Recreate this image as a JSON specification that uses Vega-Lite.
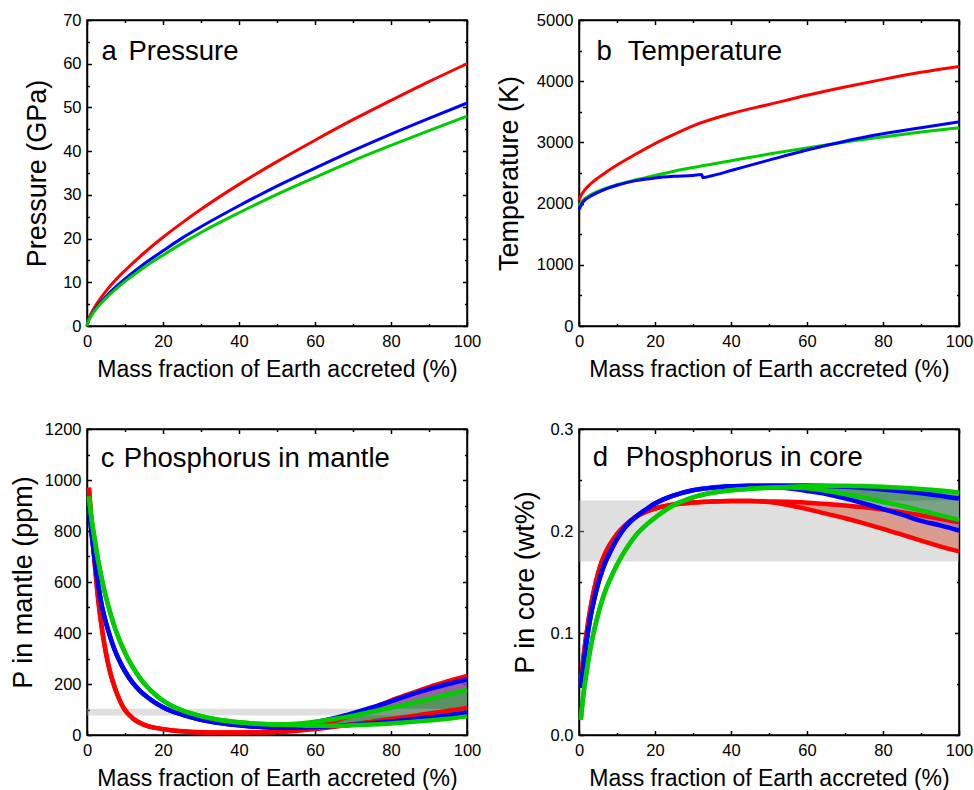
{
  "$schema": "https://vega.github.io/schema/vega-lite/v6.json",
  "padding": {"left": 8, "top": 11, "right": 0, "bottom": 0},
  "background": "white",
  "config": {
    "font": "Liberation Sans",
    "view": {"stroke": "black", "strokeWidth": 1.5},
    "axis": {
      "labelFont": "Liberation Sans", "labelFontSize": 16.5, "labelColor": "black",
      "titleFont": "Liberation Sans", "titleFontWeight": "normal", "titleColor": "black",
      "domainColor": "black", "domainWidth": 1.5, "tickColor": "black", "tickWidth": 1.5,
      "grid": false, "labelFlush": false, "labelOverlap": false
    },
    "axisX": {"titleFontSize": 23},
    "axisY": {"titleFontSize": 27},
    "text": {"font": "Liberation Sans", "fontSize": 27.5, "color": "black"}
  },
  "datasets": {
    "pa": [
      {"x":0,"s":"red","v":0},{"x":0.5,"s":"red","v":1.7},{"x":1,"s":"red","v":2.69},{"x":2,"s":"red","v":4.3},{"x":3,"s":"red","v":5.65},{"x":5,"s":"red","v":7.97},{"x":7.5,"s":"red","v":10.5},{"x":10,"s":"red","v":12.7},{"x":15,"s":"red","v":16.7},{"x":20,"s":"red","v":20.3},{"x":25,"s":"red","v":23.6},{"x":30,"s":"red","v":26.7},{"x":40,"s":"red","v":32.4},{"x":50,"s":"red","v":37.6},{"x":60,"s":"red","v":42.5},{"x":70,"s":"red","v":47.2},{"x":80,"s":"red","v":51.6},{"x":90,"s":"red","v":55.9},{"x":100,"s":"red","v":60},
      {"x":0,"s":"blue","v":0},{"x":0.5,"s":"blue","v":1.45},{"x":1,"s":"blue","v":2.29},{"x":2,"s":"blue","v":3.66},{"x":3,"s":"blue","v":4.8},{"x":5,"s":"blue","v":6.77},{"x":7.5,"s":"blue","v":8.9},{"x":10,"s":"blue","v":10.8},{"x":15,"s":"blue","v":14.2},{"x":20,"s":"blue","v":17.2},{"x":25,"s":"blue","v":20.1},{"x":30,"s":"blue","v":22.7},{"x":40,"s":"blue","v":27.5},{"x":50,"s":"blue","v":32.0},{"x":60,"s":"blue","v":36.1},{"x":70,"s":"blue","v":40.1},{"x":80,"s":"blue","v":43.9},{"x":90,"s":"blue","v":47.5},{"x":100,"s":"blue","v":51},
      {"x":0,"s":"green","v":0},{"x":0.5,"s":"green","v":1.36},{"x":1,"s":"green","v":2.15},{"x":2,"s":"green","v":3.44},{"x":3,"s":"green","v":4.52},{"x":5,"s":"green","v":6.38},{"x":7.5,"s":"green","v":8.4},{"x":10,"s":"green","v":10.2},{"x":15,"s":"green","v":13.4},{"x":20,"s":"green","v":16.2},{"x":25,"s":"green","v":18.9},{"x":30,"s":"green","v":21.4},{"x":40,"s":"green","v":25.9},{"x":50,"s":"green","v":30.1},{"x":60,"s":"green","v":34.0},{"x":70,"s":"green","v":37.8},{"x":80,"s":"green","v":41.3},{"x":90,"s":"green","v":44.7},{"x":100,"s":"green","v":48}
    ],
    "pb": [
      {"x":0,"s":"red","v":2050},{"x":0.5,"s":"red","v":2130},{"x":1,"s":"red","v":2180},{"x":2,"s":"red","v":2260},{"x":3,"s":"red","v":2320},{"x":5,"s":"red","v":2420},{"x":7.5,"s":"red","v":2530},{"x":10,"s":"red","v":2630},{"x":15,"s":"red","v":2810},{"x":20,"s":"red","v":2980},{"x":25,"s":"red","v":3130},{"x":30,"s":"red","v":3270},{"x":40,"s":"red","v":3470},{"x":50,"s":"red","v":3620},{"x":60,"s":"red","v":3770},{"x":70,"s":"red","v":3905},{"x":80,"s":"red","v":4030},{"x":90,"s":"red","v":4145},{"x":100,"s":"red","v":4240},
      {"x":0,"s":"green","v":1960},{"x":0.5,"s":"green","v":2010},{"x":1,"s":"green","v":2050},{"x":2,"s":"green","v":2100},{"x":3,"s":"green","v":2140},{"x":5,"s":"green","v":2200},{"x":7.5,"s":"green","v":2260},{"x":10,"s":"green","v":2310},{"x":15,"s":"green","v":2390},{"x":20,"s":"green","v":2460},{"x":25,"s":"green","v":2530},{"x":30,"s":"green","v":2590},{"x":40,"s":"green","v":2700},{"x":50,"s":"green","v":2810},{"x":60,"s":"green","v":2910},{"x":70,"s":"green","v":3005},{"x":80,"s":"green","v":3090},{"x":90,"s":"green","v":3170},{"x":100,"s":"green","v":3240},
      {"x":0,"s":"blue","v":1900},{"x":0.5,"s":"blue","v":1970},{"x":1,"s":"blue","v":2020},{"x":2,"s":"blue","v":2080},{"x":3,"s":"blue","v":2120},{"x":5,"s":"blue","v":2185},{"x":7.5,"s":"blue","v":2250},{"x":10,"s":"blue","v":2300},{"x":15,"s":"blue","v":2375},{"x":20,"s":"blue","v":2420},{"x":25,"s":"blue","v":2445},{"x":30,"s":"blue","v":2460},{"x":32.3,"s":"blue","v":2475},{"x":32.6,"s":"blue","v":2425},{"x":35,"s":"blue","v":2455},{"x":40,"s":"blue","v":2540},{"x":50,"s":"blue","v":2710},{"x":60,"s":"blue","v":2875},{"x":70,"s":"blue","v":3020},{"x":80,"s":"blue","v":3140},{"x":90,"s":"blue","v":3240},{"x":100,"s":"blue","v":3335}
    ],
    "pc": [
      {"x":0.5,"s":"red","lo":970,"hi":970},{"x":1,"s":"red","lo":870,"hi":870},{"x":2,"s":"red","lo":680,"hi":680},{"x":3,"s":"red","lo":525,"hi":525},{"x":4,"s":"red","lo":410,"hi":410},{"x":5,"s":"red","lo":320,"hi":320},{"x":6,"s":"red","lo":252,"hi":252},{"x":7,"s":"red","lo":200,"hi":200},{"x":8,"s":"red","lo":158,"hi":158},{"x":9,"s":"red","lo":124,"hi":124},{"x":10,"s":"red","lo":98,"hi":98},{"x":12,"s":"red","lo":66,"hi":66},{"x":14,"s":"red","lo":47,"hi":47},{"x":16,"s":"red","lo":35,"hi":35},{"x":18,"s":"red","lo":28,"hi":28},{"x":20,"s":"red","lo":23,"hi":23},{"x":22,"s":"red","lo":19,"hi":19},{"x":25,"s":"red","lo":15,"hi":15},{"x":30,"s":"red","lo":11,"hi":11},{"x":35,"s":"red","lo":10,"hi":10},{"x":40,"s":"red","lo":10,"hi":10},{"x":45,"s":"red","lo":11,"hi":11},{"x":50,"s":"red","lo":12,"hi":14},{"x":55,"s":"red","lo":16,"hi":22},{"x":60,"s":"red","lo":23,"hi":36},{"x":65,"s":"red","lo":32,"hi":55},{"x":70,"s":"red","lo":42,"hi":78},{"x":75,"s":"red","lo":52,"hi":104},{"x":80,"s":"red","lo":63,"hi":135},{"x":85,"s":"red","lo":73,"hi":162},{"x":90,"s":"red","lo":84,"hi":188},{"x":95,"s":"red","lo":95,"hi":211},{"x":100,"s":"red","lo":106,"hi":232},
      {"x":0.5,"s":"blue","lo":900,"hi":900},{"x":1,"s":"blue","lo":820,"hi":820},{"x":2,"s":"blue","lo":690,"hi":690},{"x":3,"s":"blue","lo":585,"hi":585},{"x":4,"s":"blue","lo":500,"hi":500},{"x":5,"s":"blue","lo":440,"hi":440},{"x":6,"s":"blue","lo":390,"hi":390},{"x":7,"s":"blue","lo":345,"hi":345},{"x":8,"s":"blue","lo":308,"hi":308},{"x":9,"s":"blue","lo":277,"hi":277},{"x":10,"s":"blue","lo":250,"hi":250},{"x":12,"s":"blue","lo":205,"hi":205},{"x":14,"s":"blue","lo":172,"hi":172},{"x":16,"s":"blue","lo":147,"hi":147},{"x":18,"s":"blue","lo":126,"hi":126},{"x":20,"s":"blue","lo":109,"hi":109},{"x":22,"s":"blue","lo":95,"hi":95},{"x":25,"s":"blue","lo":80,"hi":80},{"x":30,"s":"blue","lo":60,"hi":60},{"x":35,"s":"blue","lo":47,"hi":47},{"x":40,"s":"blue","lo":38,"hi":38},{"x":45,"s":"blue","lo":32,"hi":32},{"x":50,"s":"blue","lo":28,"hi":32},{"x":55,"s":"blue","lo":28,"hi":38},{"x":60,"s":"blue","lo":31,"hi":50},{"x":65,"s":"blue","lo":35,"hi":66},{"x":70,"s":"blue","lo":40,"hi":86},{"x":75,"s":"blue","lo":46,"hi":108},{"x":80,"s":"blue","lo":53,"hi":132},{"x":85,"s":"blue","lo":61,"hi":157},{"x":90,"s":"blue","lo":69,"hi":180},{"x":95,"s":"blue","lo":78,"hi":200},{"x":100,"s":"blue","lo":88,"hi":218},
      {"x":0.5,"s":"green","lo":935,"hi":935},{"x":1,"s":"green","lo":870,"hi":870},{"x":2,"s":"green","lo":770,"hi":770},{"x":3,"s":"green","lo":680,"hi":680},{"x":4,"s":"green","lo":605,"hi":605},{"x":5,"s":"green","lo":540,"hi":540},{"x":6,"s":"green","lo":485,"hi":485},{"x":7,"s":"green","lo":436,"hi":436},{"x":8,"s":"green","lo":393,"hi":393},{"x":9,"s":"green","lo":356,"hi":356},{"x":10,"s":"green","lo":322,"hi":322},{"x":12,"s":"green","lo":267,"hi":267},{"x":14,"s":"green","lo":222,"hi":222},{"x":16,"s":"green","lo":186,"hi":186},{"x":18,"s":"green","lo":158,"hi":158},{"x":20,"s":"green","lo":135,"hi":135},{"x":22,"s":"green","lo":117,"hi":117},{"x":25,"s":"green","lo":97,"hi":97},{"x":30,"s":"green","lo":74,"hi":74},{"x":35,"s":"green","lo":59,"hi":59},{"x":40,"s":"green","lo":50,"hi":50},{"x":45,"s":"green","lo":44,"hi":44},{"x":50,"s":"green","lo":41,"hi":41},{"x":55,"s":"green","lo":39,"hi":44},{"x":60,"s":"green","lo":36,"hi":52},{"x":65,"s":"green","lo":36,"hi":63},{"x":70,"s":"green","lo":38,"hi":76},{"x":75,"s":"green","lo":41,"hi":91},{"x":80,"s":"green","lo":45,"hi":107},{"x":85,"s":"green","lo":51,"hi":124},{"x":90,"s":"green","lo":57,"hi":141},{"x":95,"s":"green","lo":64,"hi":160},{"x":100,"s":"green","lo":73,"hi":178}
    ],
    "pd": [
      {"x":0.5,"s":"red","lo":0.05,"hi":0.05},{"x":1,"s":"red","lo":0.07,"hi":0.07},{"x":2,"s":"red","lo":0.1,"hi":0.1},{"x":3,"s":"red","lo":0.124,"hi":0.124},{"x":4,"s":"red","lo":0.143,"hi":0.143},{"x":5,"s":"red","lo":0.158,"hi":0.158},{"x":6,"s":"red","lo":0.17,"hi":0.17},{"x":7,"s":"red","lo":0.179,"hi":0.179},{"x":8,"s":"red","lo":0.186,"hi":0.186},{"x":10,"s":"red","lo":0.197,"hi":0.197},{"x":12,"s":"red","lo":0.205,"hi":0.205},{"x":15,"s":"red","lo":0.214,"hi":0.214},{"x":18,"s":"red","lo":0.2195,"hi":0.2195},{"x":20,"s":"red","lo":0.222,"hi":0.222},{"x":25,"s":"red","lo":0.226,"hi":0.226},{"x":30,"s":"red","lo":0.228,"hi":0.228},{"x":35,"s":"red","lo":0.229,"hi":0.229},{"x":40,"s":"red","lo":0.2293,"hi":0.2293},{"x":45,"s":"red","lo":0.2293,"hi":0.2293},{"x":50,"s":"red","lo":0.2283,"hi":0.229},{"x":55,"s":"red","lo":0.2255,"hi":0.2287},{"x":60,"s":"red","lo":0.2215,"hi":0.2278},{"x":65,"s":"red","lo":0.217,"hi":0.2265},{"x":70,"s":"red","lo":0.2125,"hi":0.225},{"x":75,"s":"red","lo":0.2075,"hi":0.2232},{"x":80,"s":"red","lo":0.202,"hi":0.221},{"x":85,"s":"red","lo":0.1965,"hi":0.2185},{"x":90,"s":"red","lo":0.1905,"hi":0.2155},{"x":95,"s":"red","lo":0.185,"hi":0.212},{"x":100,"s":"red","lo":0.18,"hi":0.2085},
      {"x":0.5,"s":"blue","lo":0.046,"hi":0.046},{"x":1,"s":"blue","lo":0.062,"hi":0.062},{"x":2,"s":"blue","lo":0.092,"hi":0.092},{"x":3,"s":"blue","lo":0.115,"hi":0.115},{"x":4,"s":"blue","lo":0.133,"hi":0.133},{"x":5,"s":"blue","lo":0.148,"hi":0.148},{"x":6,"s":"blue","lo":0.16,"hi":0.16},{"x":7,"s":"blue","lo":0.17,"hi":0.17},{"x":8,"s":"blue","lo":0.178,"hi":0.178},{"x":10,"s":"blue","lo":0.192,"hi":0.192},{"x":12,"s":"blue","lo":0.203,"hi":0.203},{"x":15,"s":"blue","lo":0.214,"hi":0.214},{"x":18,"s":"blue","lo":0.222,"hi":0.222},{"x":20,"s":"blue","lo":0.227,"hi":0.227},{"x":25,"s":"blue","lo":0.235,"hi":0.235},{"x":30,"s":"blue","lo":0.24,"hi":0.24},{"x":35,"s":"blue","lo":0.2425,"hi":0.2425},{"x":40,"s":"blue","lo":0.2438,"hi":0.2438},{"x":45,"s":"blue","lo":0.2444,"hi":0.2444},{"x":50,"s":"blue","lo":0.2435,"hi":0.2447},{"x":55,"s":"blue","lo":0.2418,"hi":0.2447},{"x":60,"s":"blue","lo":0.2393,"hi":0.2445},{"x":65,"s":"blue","lo":0.2363,"hi":0.2441},{"x":70,"s":"blue","lo":0.232,"hi":0.2433},{"x":75,"s":"blue","lo":0.227,"hi":0.2422},{"x":80,"s":"blue","lo":0.2215,"hi":0.2407},{"x":85,"s":"blue","lo":0.216,"hi":0.239},{"x":90,"s":"blue","lo":0.21,"hi":0.237},{"x":95,"s":"blue","lo":0.2055,"hi":0.2346},{"x":100,"s":"blue","lo":0.2005,"hi":0.2318},
      {"x":0.5,"s":"green","lo":0.015,"hi":0.015},{"x":1,"s":"green","lo":0.035,"hi":0.035},{"x":2,"s":"green","lo":0.062,"hi":0.062},{"x":3,"s":"green","lo":0.085,"hi":0.085},{"x":4,"s":"green","lo":0.103,"hi":0.103},{"x":5,"s":"green","lo":0.118,"hi":0.118},{"x":6,"s":"green","lo":0.131,"hi":0.131},{"x":7,"s":"green","lo":0.142,"hi":0.142},{"x":8,"s":"green","lo":0.151,"hi":0.151},{"x":10,"s":"green","lo":0.167,"hi":0.167},{"x":12,"s":"green","lo":0.18,"hi":0.18},{"x":15,"s":"green","lo":0.196,"hi":0.196},{"x":18,"s":"green","lo":0.207,"hi":0.207},{"x":20,"s":"green","lo":0.213,"hi":0.213},{"x":25,"s":"green","lo":0.2255,"hi":0.2255},{"x":30,"s":"green","lo":0.233,"hi":0.233},{"x":35,"s":"green","lo":0.2375,"hi":0.2375},{"x":40,"s":"green","lo":0.24,"hi":0.24},{"x":45,"s":"green","lo":0.2415,"hi":0.2415},{"x":50,"s":"green","lo":0.2425,"hi":0.2425},{"x":55,"s":"green","lo":0.2426,"hi":0.2432},{"x":60,"s":"green","lo":0.2418,"hi":0.244},{"x":65,"s":"green","lo":0.2395,"hi":0.2443},{"x":70,"s":"green","lo":0.2362,"hi":0.2443},{"x":75,"s":"green","lo":0.2325,"hi":0.244},{"x":80,"s":"green","lo":0.2285,"hi":0.2435},{"x":85,"s":"green","lo":0.2245,"hi":0.2425},{"x":90,"s":"green","lo":0.22,"hi":0.2412},{"x":95,"s":"green","lo":0.2155,"hi":0.2397},{"x":100,"s":"green","lo":0.2108,"hi":0.2378}
    ],
    "bandc": [{"x0":0,"x1":100,"lo":76,"hi":103}],
    "bandd": [{"x0":0,"x1":100,"lo":0.17,"hi":0.23}],
    "ta": [{"x":3.8,"y":60.9,"t":"a"},{"x":10.9,"y":60.9,"t":"Pressure"}],
    "tb": [{"x":4.6,"y":4352,"t":"b"},{"x":12.8,"y":4352,"t":"Temperature"}],
    "tc": [{"x":3.6,"y":1052,"t":"c"},{"x":9.7,"y":1052,"t":"Phosphorus in mantle"}],
    "td": [{"x":3.6,"y":0.2637,"t":"d"},{"x":12.3,"y":0.2637,"t":"Phosphorus in core"}]
  },
  "concat": [
    {
      "width": 380, "height": 306,
      "resolve": {"axis": {"x": "independent", "y": "independent"}},
      "layer": [
        {
          "data": {"name": "pa"},
          "mark": {"type": "line", "interpolate": "monotone", "strokeWidth": 3},
          "encoding": {
            "x": {"field": "x", "type": "quantitative", "scale": {"domain": [0, 100], "nice": false},
              "axis": {"orient": "bottom", "title": "Mass fraction of Earth accreted (%)", "values": [0,10,20,30,40,50,60,70,80,90,100],
                "labelExpr": "round(datum.value/10)%2==1 ? '' : datum.label",
                "tickSize": {"condition": {"test": "round(datum.value/10)%2==1", "value": -2.5}, "value": -4.5},
                "labelPadding": 11.5, "titlePadding": 7}},
            "y": {"field": "v", "type": "quantitative", "scale": {"domain": [0, 70], "nice": false},
              "axis": {"orient": "left", "title": "Pressure (GPa)", "values": [0,5,10,15,20,25,30,35,40,45,50,55,60,65,70],
                "labelExpr": "round(datum.value/5)%2==1 ? '' : datum.label",
                "tickSize": {"condition": {"test": "round(datum.value/5)%2==1", "value": -2.5}, "value": -4.5},
                "labelPadding": 10.5, "titlePadding": 11}},
            "color": {"field": "s", "type": "nominal", "scale": {"domain": ["red", "blue", "green"], "range": ["#ff0000", "#0000ff", "#00cc00"]}, "legend": null}
          }
        },
        {
          "data": {"name": "ta"},
          "mark": {"type": "text", "align": "left", "baseline": "alphabetic"},
          "encoding": {
            "x": {"field": "x", "type": "quantitative",
              "axis": {"orient": "top", "title": null, "labels": false, "values": [0,10,20,30,40,50,60,70,80,90,100],
                "tickSize": {"condition": {"test": "round(datum.value/10)%2==1", "value": -2.5}, "value": -4.5}}},
            "y": {"field": "y", "type": "quantitative",
              "axis": {"orient": "right", "title": null, "labels": false, "values": [0,5,10,15,20,25,30,35,40,45,50,55,60,65,70],
                "tickSize": {"condition": {"test": "round(datum.value/5)%2==1", "value": -2.5}, "value": -4.5}}},
            "text": {"field": "t"}
          }
        }
      ]
    },
    {
      "width": 380, "height": 306,
      "resolve": {"axis": {"x": "independent", "y": "independent"}},
      "layer": [
        {
          "data": {"name": "pb"},
          "transform": [{"filter": "datum.s == 'red'"}],
          "mark": {"type": "line", "interpolate": "monotone", "strokeWidth": 3, "color": "#ff0000"},
          "encoding": {
            "x": {"field": "x", "type": "quantitative", "scale": {"domain": [0, 100], "nice": false},
              "axis": {"orient": "bottom", "title": "Mass fraction of Earth accreted (%)", "values": [0,10,20,30,40,50,60,70,80,90,100],
                "labelExpr": "round(datum.value/10)%2==1 ? '' : datum.label",
                "tickSize": {"condition": {"test": "round(datum.value/10)%2==1", "value": -2.5}, "value": -4.5},
                "labelPadding": 11.5, "titlePadding": 7}},
            "y": {"field": "v", "type": "quantitative", "scale": {"domain": [0, 5000], "nice": false},
              "axis": {"orient": "left", "title": "Temperature (K)", "values": [0,500,1000,1500,2000,2500,3000,3500,4000,4500,5000],
                "labelExpr": "round(datum.value/500)%2==1 ? '' : datum.label", "format": "d",
                "tickSize": {"condition": {"test": "round(datum.value/500)%2==1", "value": -2.5}, "value": -4.5},
                "labelPadding": 10.5, "titlePadding": 13}}
          }
        },
        {
          "data": {"name": "pb"},
          "transform": [{"filter": "datum.s == 'green'"}],
          "mark": {"type": "line", "interpolate": "monotone", "strokeWidth": 3, "color": "#00cc00"},
          "encoding": {
            "x": {"field": "x", "type": "quantitative", "axis": null},
            "y": {"field": "v", "type": "quantitative", "axis": null}
          }
        },
        {
          "data": {"name": "pb"},
          "transform": [{"filter": "datum.s == 'blue'"}],
          "mark": {"type": "line", "interpolate": "monotone", "strokeWidth": 3, "color": "#0000ff"},
          "encoding": {
            "x": {"field": "x", "type": "quantitative", "axis": null},
            "y": {"field": "v", "type": "quantitative", "axis": null}
          }
        },
        {
          "data": {"name": "tb"},
          "mark": {"type": "text", "align": "left", "baseline": "alphabetic"},
          "encoding": {
            "x": {"field": "x", "type": "quantitative",
              "axis": {"orient": "top", "title": null, "labels": false, "values": [0,10,20,30,40,50,60,70,80,90,100],
                "tickSize": {"condition": {"test": "round(datum.value/10)%2==1", "value": -2.5}, "value": -4.5}}},
            "y": {"field": "y", "type": "quantitative",
              "axis": {"orient": "right", "title": null, "labels": false, "values": [0,500,1000,1500,2000,2500,3000,3500,4000,4500,5000],
                "tickSize": {"condition": {"test": "round(datum.value/500)%2==1", "value": -2.5}, "value": -4.5}}},
            "text": {"field": "t"}
          }
        }
      ]
    },
    {
      "width": 380, "height": 306,
      "resolve": {"axis": {"x": "independent", "y": "independent"}},
      "layer": [
        {
          "data": {"name": "pc"},
          "transform": [{"filter": "datum.s == 'red'"}],
          "mark": {"type": "area", "interpolate": "monotone", "color": "#f06040", "opacity": 0.7},
          "encoding": {
            "x": {"field": "x", "type": "quantitative", "scale": {"domain": [0, 100], "nice": false},
              "axis": {"orient": "bottom", "title": "Mass fraction of Earth accreted (%)", "values": [0,10,20,30,40,50,60,70,80,90,100],
                "labelExpr": "round(datum.value/10)%2==1 ? '' : datum.label",
                "tickSize": {"condition": {"test": "round(datum.value/10)%2==1", "value": -2.5}, "value": -4.5},
                "labelPadding": 11.5, "titlePadding": 7}},
            "y": {"field": "lo", "type": "quantitative", "scale": {"domain": [0, 1200], "nice": false},
              "axis": {"orient": "left", "title": "P in mantle (ppm)", "values": [0,100,200,300,400,500,600,700,800,900,1000,1100,1200],
                "labelExpr": "round(datum.value/100)%2==1 ? '' : datum.label", "format": "d",
                "tickSize": {"condition": {"test": "round(datum.value/100)%2==1", "value": -2.5}, "value": -4.5},
                "labelPadding": 10.5, "titlePadding": 7}},
            "y2": {"field": "hi"}
          }
        },
        {
          "data": {"name": "pc"},
          "transform": [{"filter": "datum.s == 'blue'"}],
          "mark": {"type": "area", "interpolate": "monotone", "color": "#6040c0", "opacity": 0.6},
          "encoding": {"x": {"field": "x", "type": "quantitative", "axis": null}, "y": {"field": "lo", "type": "quantitative", "axis": null}, "y2": {"field": "hi"}}
        },
        {
          "data": {"name": "pc"},
          "transform": [{"filter": "datum.s == 'green'"}],
          "mark": {"type": "area", "interpolate": "monotone", "color": "#4e9a58", "opacity": 0.85},
          "encoding": {"x": {"field": "x", "type": "quantitative", "axis": null}, "y": {"field": "lo", "type": "quantitative", "axis": null}, "y2": {"field": "hi"}}
        },
        {
          "data": {"name": "bandc"},
          "mark": {"type": "rect", "color": "#b0b0b0", "opacity": 0.4},
          "encoding": {
            "x": {"field": "x0", "type": "quantitative", "axis": null},
            "x2": {"field": "x1"},
            "y": {"field": "lo", "type": "quantitative", "axis": null},
            "y2": {"field": "hi"}
          }
        },
        {
          "data": {"name": "pc"},
          "transform": [{"filter": "datum.s == 'red'"}],
          "mark": {"type": "line", "interpolate": "monotone", "strokeWidth": 4.5, "color": "#ff0000"},
          "encoding": {"x": {"field": "x", "type": "quantitative", "axis": null}, "y": {"field": "lo", "type": "quantitative", "axis": null}}
        },
        {
          "data": {"name": "pc"},
          "transform": [{"filter": "datum.s == 'red'"}],
          "mark": {"type": "line", "interpolate": "monotone", "strokeWidth": 4.5, "color": "#ff0000"},
          "encoding": {"x": {"field": "x", "type": "quantitative", "axis": null}, "y": {"field": "hi", "type": "quantitative", "axis": null}}
        },
        {
          "data": {"name": "pc"},
          "transform": [{"filter": "datum.s == 'blue'"}],
          "mark": {"type": "line", "interpolate": "monotone", "strokeWidth": 4.5, "color": "#0000ff"},
          "encoding": {"x": {"field": "x", "type": "quantitative", "axis": null}, "y": {"field": "lo", "type": "quantitative", "axis": null}}
        },
        {
          "data": {"name": "pc"},
          "transform": [{"filter": "datum.s == 'blue'"}],
          "mark": {"type": "line", "interpolate": "monotone", "strokeWidth": 4.5, "color": "#0000ff"},
          "encoding": {"x": {"field": "x", "type": "quantitative", "axis": null}, "y": {"field": "hi", "type": "quantitative", "axis": null}}
        },
        {
          "data": {"name": "pc"},
          "transform": [{"filter": "datum.s == 'green'"}],
          "mark": {"type": "line", "interpolate": "monotone", "strokeWidth": 4.5, "color": "#00cc00"},
          "encoding": {"x": {"field": "x", "type": "quantitative", "axis": null}, "y": {"field": "lo", "type": "quantitative", "axis": null}}
        },
        {
          "data": {"name": "pc"},
          "transform": [{"filter": "datum.s == 'green'"}],
          "mark": {"type": "line", "interpolate": "monotone", "strokeWidth": 4.5, "color": "#00cc00"},
          "encoding": {"x": {"field": "x", "type": "quantitative", "axis": null}, "y": {"field": "hi", "type": "quantitative", "axis": null}}
        },
        {
          "data": {"name": "tc"},
          "mark": {"type": "text", "align": "left", "baseline": "alphabetic"},
          "encoding": {
            "x": {"field": "x", "type": "quantitative",
              "axis": {"orient": "top", "title": null, "labels": false, "values": [0,10,20,30,40,50,60,70,80,90,100],
                "tickSize": {"condition": {"test": "round(datum.value/10)%2==1", "value": -2.5}, "value": -4.5}}},
            "y": {"field": "y", "type": "quantitative",
              "axis": {"orient": "right", "title": null, "labels": false, "values": [0,100,200,300,400,500,600,700,800,900,1000,1100,1200],
                "tickSize": {"condition": {"test": "round(datum.value/100)%2==1", "value": -2.5}, "value": -4.5}}},
            "text": {"field": "t"}
          }
        }
      ]
    },
    {
      "width": 380, "height": 306,
      "resolve": {"axis": {"x": "independent", "y": "independent"}},
      "layer": [
        {
          "data": {"name": "pd"},
          "transform": [{"filter": "datum.s == 'red'"}],
          "mark": {"type": "area", "interpolate": "monotone", "color": "#f06040", "opacity": 0.7},
          "encoding": {
            "x": {"field": "x", "type": "quantitative", "scale": {"domain": [0, 100], "nice": false},
              "axis": {"orient": "bottom", "title": "Mass fraction of Earth accreted (%)", "values": [0,10,20,30,40,50,60,70,80,90,100],
                "labelExpr": "round(datum.value/10)%2==1 ? '' : datum.label",
                "tickSize": {"condition": {"test": "round(datum.value/10)%2==1", "value": -2.5}, "value": -4.5},
                "labelPadding": 11.5, "titlePadding": 7}},
            "y": {"field": "lo", "type": "quantitative", "scale": {"domain": [0, 0.3], "nice": false},
              "axis": {"orient": "left", "title": "P in core (wt%)", "values": [0,0.05,0.1,0.15,0.2,0.25,0.3],
                "labelExpr": "round(datum.value*20)%2==1 ? '' : datum.label", "format": ".1f",
                "tickSize": {"condition": {"test": "round(datum.value*20)%2==1", "value": -2.5}, "value": -4.5},
                "labelPadding": 10.5, "titlePadding": 11}},
            "y2": {"field": "hi"}
          }
        },
        {
          "data": {"name": "pd"},
          "transform": [{"filter": "datum.s == 'blue'"}],
          "mark": {"type": "area", "interpolate": "monotone", "color": "#6040c0", "opacity": 0.6},
          "encoding": {"x": {"field": "x", "type": "quantitative", "axis": null}, "y": {"field": "lo", "type": "quantitative", "axis": null}, "y2": {"field": "hi"}}
        },
        {
          "data": {"name": "pd"},
          "transform": [{"filter": "datum.s == 'green'"}],
          "mark": {"type": "area", "interpolate": "monotone", "color": "#4e9a58", "opacity": 0.85},
          "encoding": {"x": {"field": "x", "type": "quantitative", "axis": null}, "y": {"field": "lo", "type": "quantitative", "axis": null}, "y2": {"field": "hi"}}
        },
        {
          "data": {"name": "bandd"},
          "mark": {"type": "rect", "color": "#b0b0b0", "opacity": 0.4},
          "encoding": {
            "x": {"field": "x0", "type": "quantitative", "axis": null},
            "x2": {"field": "x1"},
            "y": {"field": "lo", "type": "quantitative", "axis": null},
            "y2": {"field": "hi"}
          }
        },
        {
          "data": {"name": "pd"},
          "transform": [{"filter": "datum.s == 'red'"}],
          "mark": {"type": "line", "interpolate": "monotone", "strokeWidth": 4.5, "color": "#ff0000"},
          "encoding": {"x": {"field": "x", "type": "quantitative", "axis": null}, "y": {"field": "lo", "type": "quantitative", "axis": null}}
        },
        {
          "data": {"name": "pd"},
          "transform": [{"filter": "datum.s == 'red'"}],
          "mark": {"type": "line", "interpolate": "monotone", "strokeWidth": 4.5, "color": "#ff0000"},
          "encoding": {"x": {"field": "x", "type": "quantitative", "axis": null}, "y": {"field": "hi", "type": "quantitative", "axis": null}}
        },
        {
          "data": {"name": "pd"},
          "transform": [{"filter": "datum.s == 'blue'"}],
          "mark": {"type": "line", "interpolate": "monotone", "strokeWidth": 4.5, "color": "#0000ff"},
          "encoding": {"x": {"field": "x", "type": "quantitative", "axis": null}, "y": {"field": "lo", "type": "quantitative", "axis": null}}
        },
        {
          "data": {"name": "pd"},
          "transform": [{"filter": "datum.s == 'blue'"}],
          "mark": {"type": "line", "interpolate": "monotone", "strokeWidth": 4.5, "color": "#0000ff"},
          "encoding": {"x": {"field": "x", "type": "quantitative", "axis": null}, "y": {"field": "hi", "type": "quantitative", "axis": null}}
        },
        {
          "data": {"name": "pd"},
          "transform": [{"filter": "datum.s == 'green'"}],
          "mark": {"type": "line", "interpolate": "monotone", "strokeWidth": 4.5, "color": "#00cc00"},
          "encoding": {"x": {"field": "x", "type": "quantitative", "axis": null}, "y": {"field": "lo", "type": "quantitative", "axis": null}}
        },
        {
          "data": {"name": "pd"},
          "transform": [{"filter": "datum.s == 'green'"}],
          "mark": {"type": "line", "interpolate": "monotone", "strokeWidth": 4.5, "color": "#00cc00"},
          "encoding": {"x": {"field": "x", "type": "quantitative", "axis": null}, "y": {"field": "hi", "type": "quantitative", "axis": null}}
        },
        {
          "data": {"name": "td"},
          "mark": {"type": "text", "align": "left", "baseline": "alphabetic"},
          "encoding": {
            "x": {"field": "x", "type": "quantitative",
              "axis": {"orient": "top", "title": null, "labels": false, "values": [0,10,20,30,40,50,60,70,80,90,100],
                "tickSize": {"condition": {"test": "round(datum.value/10)%2==1", "value": -2.5}, "value": -4.5}}},
            "y": {"field": "y", "type": "quantitative",
              "axis": {"orient": "right", "title": null, "labels": false, "values": [0,0.05,0.1,0.15,0.2,0.25,0.3],
                "tickSize": {"condition": {"test": "round(datum.value*20)%2==1", "value": -2.5}, "value": -4.5}}},
            "text": {"field": "t"}
          }
        }
      ]
    }
  ],
  "columns": 2,
  "spacing": {"row": 103, "column": 112},
  "bounds": "flush"
}
